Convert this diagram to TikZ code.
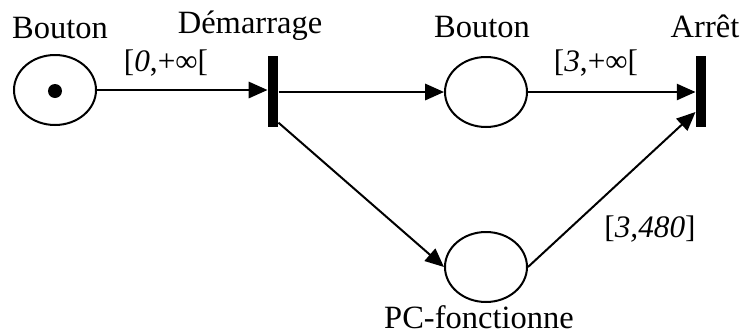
\documentclass[tikz,border=0pt]{standalone}
\usepackage{fontspec}
\setmainfont{Liberation Serif}
\usetikzlibrary{arrows.meta,%
                shapes.geometric,positioning}

\begin{document}
\begin{tikzpicture}[x=0.4pt,y=-0.4pt,
  place/.style={draw,ellipse,line width=0.8pt,minimum width=32.8pt,minimum height=28pt,inner sep=0pt},
  trans/.style={fill=black,rectangle,minimum width=4pt,minimum height=28.4pt,inner sep=0pt},
  flow/.style={-{Triangle[length=7.5pt,width=6.5pt]},line width=0.8pt},
  lbl/.style={anchor=base,font=\fontsize{13}{15}\selectfont},
  intv/.style={anchor=base,font=\fontsize{12.5}{15}\selectfont}]
\useasboundingbox (0,0) rectangle (742,334);

\node[place] (bouton) at (55,90) {};
\fill (55,91) circle (2.8pt);
\node[trans] (demarrage) at (273,91.5) {};
\node[place] (bouton2) at (486,92) {};
\node[trans] (arret) at (701,91.5) {};
\node[place] (pc) at (486,267) {};

\node[lbl] (lbouton) at (60,38) {Bouton};
\node[lbl] (ldemarrage) at (250,33) {Démarrage};
\node[lbl] (lbouton2) at (482,37) {Bouton};
\node[lbl] (larret) at (705,37) {Arrêt};
\node[lbl] (lpc) at (479,328) {PC-fonctionne};

\node[intv] (i1) at (166,71) {[\textit{0},+∞[};
\node[intv] (i2) at (596,71) {[\textit{3},+∞[};
\node[intv] (i3) at (650,237) {[\textit{3,480}]};

\draw[flow] (bouton.east) -- (demarrage.west |- bouton.east);
\draw[flow] (demarrage.east |- bouton2.west) -- (bouton2.west);
\draw[flow] (demarrage.-80) -- (pc.west);
\draw[flow] (bouton2.east) -- (arret.west |- bouton2.east);
\draw[flow] (pc.east) -- (arret.255);

\end{tikzpicture}
\end{document}
